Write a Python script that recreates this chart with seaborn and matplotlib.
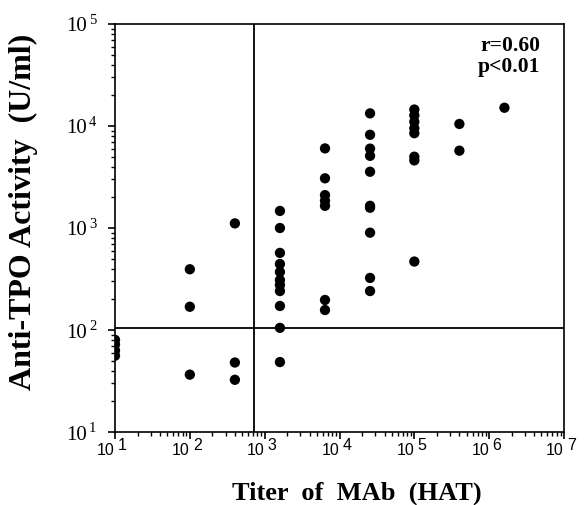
import matplotlib
matplotlib.use("Agg")
import matplotlib.pyplot as plt
import matplotlib.transforms as mtransforms
from matplotlib.ticker import LogLocator, NullFormatter
import numpy as np
import pandas as pd
import seaborn as sns

# Hemagglutination titer of each MAb and the anti-TPO activity it gives
titer_10 = [10, 10, 10, 10]
act_10 = [80, 72, 63, 56]

titer_100 = [100, 100, 100]
act_100 = [394, 169, 36.5]

titer_400 = [400, 400, 400]
act_400 = [1110, 48, 32.5]

titer_1600 = [1600] * 11
act_1600 = [1470, 1000, 570, 444, 371, 309, 276, 241, 172, 105, 48.5]

titer_6400 = [6400] * 7
act_6400 = [6030, 3070, 2100, 1850, 1650, 197, 157]

titer_25600 = [25600] * 10
act_25600 = [13300, 8200, 6000, 5100, 3560, 1650, 1580, 900, 324, 241]

titer_1e5 = [100000] * 8
act_1e5 = [14500, 12700, 11000, 9500, 8500, 5000, 4600, 469]

titer_4e5 = [400000, 400000]
act_4e5 = [10470, 5730]

titer_16e5 = [1600000]
act_16e5 = [15100]

# cut-off levels
titer_cutoff = 730
activity_cutoff = 105

r_text = "r=0.60"
p_text = "p<0.01"

x_ticks = [1e1, 1e2, 1e3, 1e4, 1e5, 1e6, 1e7]
x_exps = ["1", "2", "3", "4", "5", "6", "7"]
y_ticks = [1e1, 1e2, 1e3, 1e4, 1e5]
y_exps = ["1", "2", "3", "4", "5"]

titer = (titer_10 + titer_100 + titer_400 + titer_1600 + titer_6400
         + titer_25600 + titer_1e5 + titer_4e5 + titer_16e5)
activity = (act_10 + act_100 + act_400 + act_1600 + act_6400
            + act_25600 + act_1e5 + act_4e5 + act_16e5)
df = pd.DataFrame({"titer": titer, "activity": activity})

sns.set_theme(style="ticks")
plt.rcParams["font.family"] = ["Liberation Serif", "DejaVu Serif"]

fig = plt.figure(figsize=(5.85, 5.05), dpi=100)
ax = fig.add_axes([115 / 585, 73 / 505, 449 / 585, 408 / 505])

sns.scatterplot(data=df, x="titer", y="activity", ax=ax, color="black",
                s=55, edgecolor="none", linewidth=0, zorder=3)

ax.set_xscale("log")
ax.set_yscale("log")
ax.set_xlim(1e1, 1e7)
ax.set_ylim(1e1, 1e5)

ax.axvline(titer_cutoff, color="black", lw=1.3, zorder=2)
ax.axhline(activity_cutoff, color="black", lw=1.3, zorder=2)

for side in ["top", "right", "left", "bottom"]:
    ax.spines[side].set_visible(True)
    ax.spines[side].set_linewidth(1.2)
    ax.spines[side].set_color("black")

ax.set_xticks(x_ticks)
ax.set_yticks(y_ticks)
ax.xaxis.set_minor_locator(LogLocator(base=10, subs=np.arange(2, 10), numticks=20))
ax.yaxis.set_minor_locator(LogLocator(base=10, subs=np.arange(2, 10), numticks=20))
ax.xaxis.set_minor_formatter(NullFormatter())
ax.yaxis.set_minor_formatter(NullFormatter())
ax.tick_params(axis="both", which="major", direction="out", length=5, width=1.2,
               color="black", labelbottom=False, labelleft=False)
ax.tick_params(axis="both", which="minor", direction="out", length=3, width=1.0,
               color="black")
ax.tick_params(top=False, right=False, which="both")

# decade labels with full-size raised exponents
px = fig.dpi_scale_trans
xt = mtransforms.blended_transform_factory(ax.transData, ax.transAxes)
for v, e in zip(x_ticks, x_exps):
    ax.text(v, -0.026, "10", transform=xt + mtransforms.ScaledTranslation(0, 0, px),
            ha="right", va="top", fontsize=11.5, family=["Liberation Sans"], color="black")
    ax.text(v, -0.014, e, transform=xt + mtransforms.ScaledTranslation(3 / 100, 0, px),
            ha="left", va="top", fontsize=11.5, family=["Liberation Sans"], color="black")

yt = mtransforms.blended_transform_factory(ax.transAxes, ax.transData)
for v, e in zip(y_ticks, y_exps):
    ax.text(-0.062, v, "10", transform=yt + mtransforms.ScaledTranslation(0, -3 / 100, px),
            ha="right", va="center", fontsize=15, color="black")
    ax.text(-0.058, v, e, transform=yt + mtransforms.ScaledTranslation(0, 3 / 100, px),
            ha="left", va="center", fontsize=10.5, color="black")

ax.set_xlabel("Titer  of  MAb  (HAT)", fontsize=19, fontweight="bold", color="black")
ax.set_ylabel("Anti-TPO Activity  (U/ml)", fontsize=23, fontweight="bold", color="black")
ax.xaxis.set_label_coords(0.539, -0.122)
ax.yaxis.set_label_coords(-0.172, 0.539)

ax.text(0.947, 0.97, r_text + "\n" + p_text, transform=ax.transAxes,
        ha="right", va="top", fontsize=15.5, fontweight="bold", color="black",
        linespacing=1.02)

fig.savefig("out.png", dpi=100)
